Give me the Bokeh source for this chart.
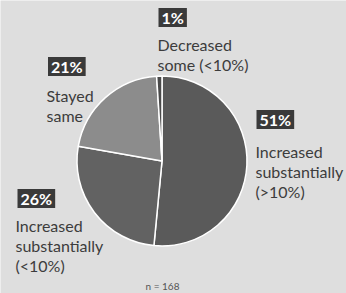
from bokeh.plotting import figure
from bokeh.models import Range1d, ColumnDataSource
from bokeh.embed import file_html
from bokeh.resources import INLINE
from bokeh.core.properties import value
import math

# ---- data ----
categories = ["Increased substantially (>10%)", "Increased substantially (<10%)",
              "Stayed same", "Decreased some (<10%)"]
shares = [51, 26, 21, 1]
pct_labels = ["51%", "26%", "21%", "1%"]
text_labels = ["Increased\nsubstantially\n(>10%)", "Increased\nsubstantially\n(<10%)",
               "Stayed\nsame", "Decreased\nsome (<10%)"]
note = "n = 168"

# ---- style / layout ----
W, H = 346, 293
colors = ["#5a5a5a", "#626262", "#8c8c8c", "#4a4a4a"]
BG = "#dedede"
cx_img, cy_img, R = 161.5, 160.5, 85
# label layout in picture pixels: box-left, box-center-y, text-left, first baseline, line step
label_pos = [(253, 119, 255, 150.5, 20), (14, 198, 15, 225, 20),
             (44.5, 66, 46, 95, 19.5), (155, 17, 157, 43.5, 20)]

def X(x): return x
def Y(y): return H - y

p = figure(width=W, height=H, output_backend="svg", toolbar_location=None,
           x_range=Range1d(0, W), y_range=Range1d(0, H), min_border=0)
p.axis.visible = False
p.grid.visible = False
p.outline_line_color = None
p.background_fill_color = BG
p.border_fill_color = BG

total = sum(shares)
starts, ends = [], []
cum = 0.0
for s in shares:
    a0 = math.pi / 2 - 2 * math.pi * cum / total
    cum += s
    a1 = math.pi / 2 - 2 * math.pi * cum / total
    starts.append(a1)
    ends.append(a0)

src = ColumnDataSource(dict(cat=categories, start=starts, end=ends, color=colors))
p.wedge(x=X(cx_img), y=Y(cy_img), radius=R, start_angle="start", end_angle="end",
        direction="anticlock", fill_color="color", line_color="white", line_width=1.5,
        source=src)

bx = [X(l[0]) + 3 for l in label_pos]
by = [Y(l[1]) for l in label_pos]
p.text(x=bx, y=by, text=pct_labels, text_font=value("Lato"), text_font_size="16px",
       text_font_style="bold", text_color="white", text_align="left",
       text_baseline="middle", background_fill_color="#3a3a3a", padding=(3, 0))

lx, ly, lt = [], [], []
for lab, pos in zip(text_labels, label_pos):
    for i, line in enumerate(lab.split("\n")):
        lx.append(X(pos[2]))
        ly.append(Y(pos[3] + i * pos[4]))
        lt.append(line)
p.text(x=lx, y=ly, text=lt, text_font=value("Lato"), text_font_size="16px",
       text_color="#3c3c3c", text_align="left", text_baseline="alphabetic")

p.text(x=[X(162)], y=[Y(285)], text=[note], text_font=value("Lato"),
       text_font_size="10px", text_color="#555555", text_align="center",
       text_baseline="middle")

open("out.html", "w").write(file_html(p, INLINE))
